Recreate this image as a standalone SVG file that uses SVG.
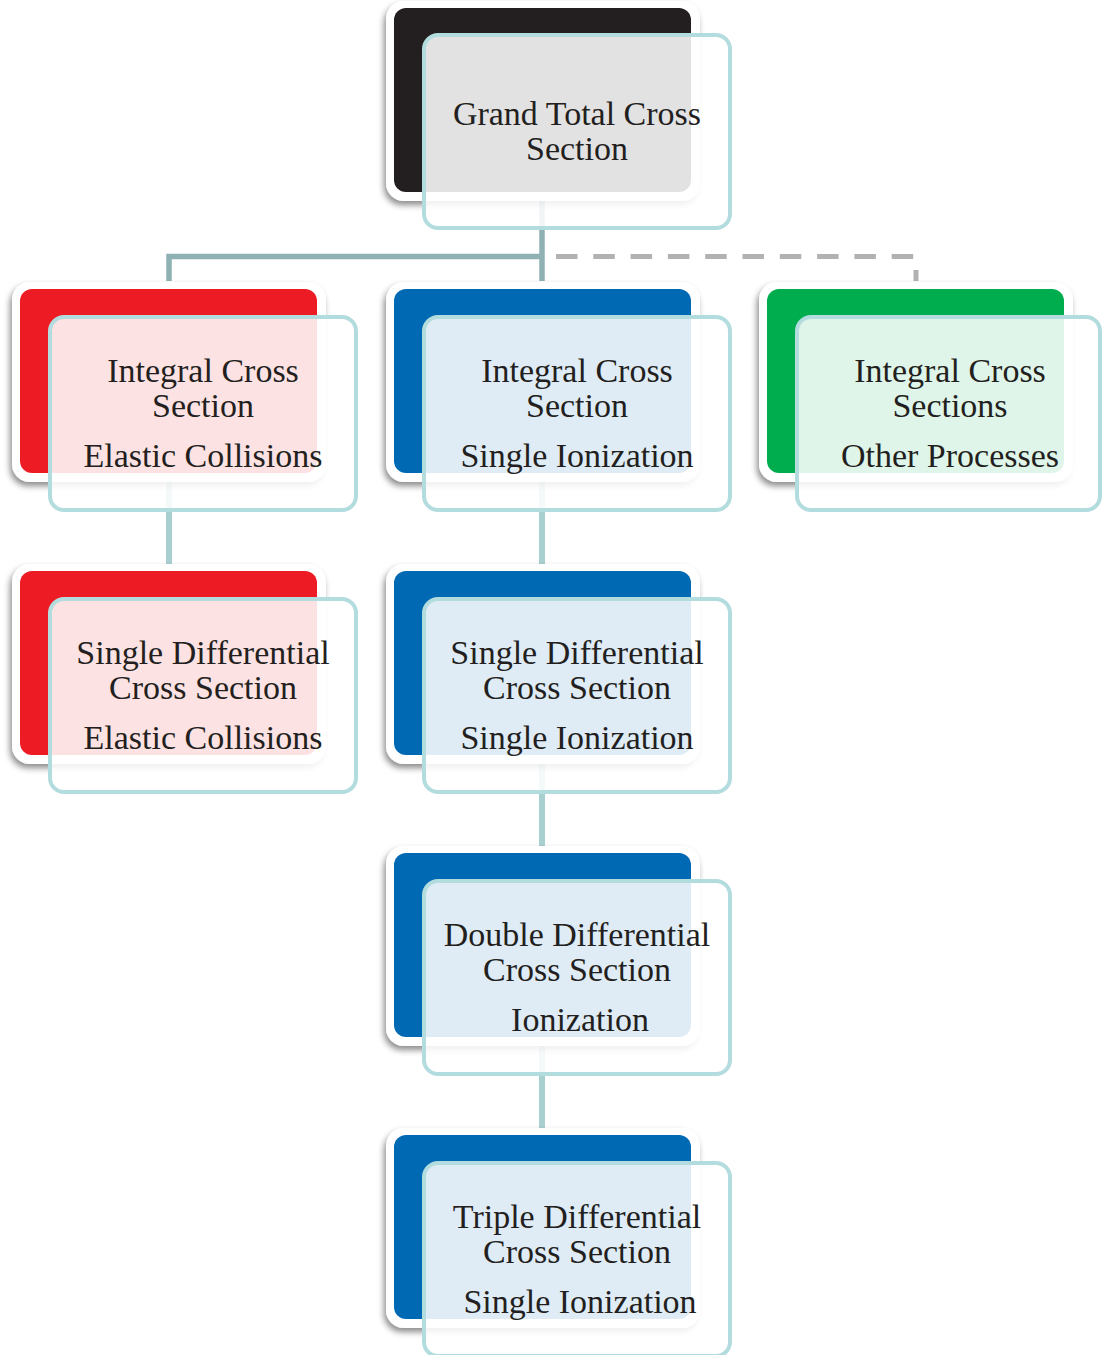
<svg xmlns="http://www.w3.org/2000/svg" width="1102" height="1355" viewBox="0 0 1102 1355">
<defs>
<filter id="sh" x="-10%" y="-10%" width="120%" height="130%">
<feDropShadow dx="-2" dy="4" stdDeviation="3" flood-color="#000" flood-opacity="0.45"/>
</filter>
<style>
.halo{fill:#fff;filter:url(#sh)}
.over{fill:#fff;fill-opacity:0.875;stroke:#b3dcdf;stroke-width:4}
.t{font-size:34px;fill:#231f20;text-anchor:middle}
.c1{fill:none;stroke:#8fb1b4;stroke-width:5.5}
.c2{fill:none;stroke:#a9d0d1;stroke-width:6}
.cd{fill:none;stroke:#b2b2b2;stroke-width:5}
.k{fill:#231f20}.r{fill:#ed1c24}.b{fill:#0069b4}.g{fill:#00ad4e}
</style>
</defs>
<rect width="1102" height="1355" fill="#fff"/>
<g id="connectors">
<path class="c1" d="M169,281 V256.5 H542"/>
<path class="c1" d="M542,200 V281"/>
<path class="cd" d="M556,256.5 H914" stroke-dasharray="21.5 15.8"/>
<path class="cd" d="M916,270 V281" stroke-width="6"/>
<path class="c2" d="M169,473 V571"/>
<path class="c2" d="M542,473 V571"/>
<path class="c2" d="M542,755 V853"/>
<path class="c2" d="M542,1037 V1135"/>
</g>
<g font-family="Liberation Serif, DejaVu Serif, serif">
<g id="n-grand-total" transform="translate(394,8)">
<rect class="halo" x="-8" y="-7" width="314" height="200" rx="18"/>
<rect class="k" width="297" height="184" rx="12"/>
<rect class="over" x="30" y="27" width="306" height="193" rx="14"/>
<text class="t" x="183" y="117">Grand Total Cross</text>
<text class="t" x="183" y="152">Section</text>
</g>
<g id="n-ics-elastic" transform="translate(20,289)">
<rect class="halo" x="-8" y="-7" width="314" height="200" rx="18"/>
<rect class="r" width="297" height="184" rx="12"/>
<rect class="over" x="30" y="28" width="306" height="193" rx="14"/>
<text class="t" x="183" y="93">Integral Cross</text>
<text class="t" x="183" y="128">Section</text>
<text class="t" x="183" y="178">Elastic Collisions</text>
</g>
<g id="n-ics-ionization" transform="translate(394,289)">
<rect class="halo" x="-8" y="-7" width="314" height="200" rx="18"/>
<rect class="b" width="297" height="184" rx="12"/>
<rect class="over" x="30" y="28" width="306" height="193" rx="14"/>
<text class="t" x="183" y="93">Integral Cross</text>
<text class="t" x="183" y="128">Section</text>
<text class="t" x="183" y="178">Single Ionization</text>
</g>
<g id="n-ics-other" transform="translate(767,289)">
<rect class="halo" x="-8" y="-7" width="314" height="200" rx="18"/>
<rect class="g" width="297" height="184" rx="12"/>
<rect class="over" x="30" y="28" width="303" height="193" rx="14"/>
<text class="t" x="183" y="93">Integral Cross</text>
<text class="t" x="183" y="128">Sections</text>
<text class="t" x="183" y="178">Other Processes</text>
</g>
<g id="n-sdcs-elastic" transform="translate(20,571)">
<rect class="halo" x="-8" y="-7" width="314" height="200" rx="18"/>
<rect class="r" width="297" height="184" rx="12"/>
<rect class="over" x="30" y="28" width="306" height="193" rx="14"/>
<text class="t" x="183" y="93">Single Differential</text>
<text class="t" x="183" y="128">Cross Section</text>
<text class="t" x="183" y="178">Elastic Collisions</text>
</g>
<g id="n-sdcs-ionization" transform="translate(394,571)">
<rect class="halo" x="-8" y="-7" width="314" height="200" rx="18"/>
<rect class="b" width="297" height="184" rx="12"/>
<rect class="over" x="30" y="28" width="306" height="193" rx="14"/>
<text class="t" x="183" y="93">Single Differential</text>
<text class="t" x="183" y="128">Cross Section</text>
<text class="t" x="183" y="178">Single Ionization</text>
</g>
<g id="n-ddcs" transform="translate(394,853)">
<rect class="halo" x="-8" y="-7" width="314" height="200" rx="18"/>
<rect class="b" width="297" height="184" rx="12"/>
<rect class="over" x="30" y="28" width="306" height="193" rx="14"/>
<text class="t" x="183" y="93">Double Differential</text>
<text class="t" x="183" y="128">Cross Section</text>
<text class="t" x="186" y="178">Ionization</text>
</g>
<g id="n-tdcs" transform="translate(394,1135)">
<rect class="halo" x="-8" y="-7" width="314" height="200" rx="18"/>
<rect class="b" width="297" height="184" rx="12"/>
<rect class="over" x="30" y="28" width="306" height="193" rx="14"/>
<text class="t" x="183" y="93">Triple Differential</text>
<text class="t" x="183" y="128">Cross Section</text>
<text class="t" x="186" y="178">Single Ionization</text>
</g>
</g>
</svg>
